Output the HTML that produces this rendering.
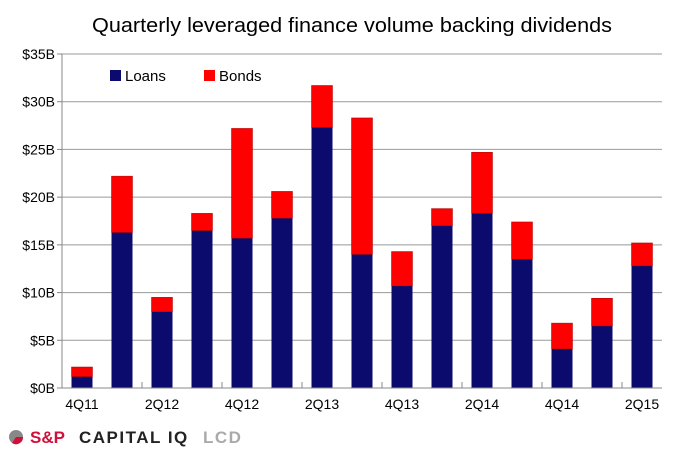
<!DOCTYPE html>
<html><head><meta charset="utf-8"><style>
body{margin:0;background:#fff;font-family:"Liberation Sans",Arial,sans-serif}
</style></head><body>
<svg width="675" height="460" xmlns="http://www.w3.org/2000/svg">
<text x="352" y="32" text-anchor="middle" font-size="20" fill="#000" textLength="520" lengthAdjust="spacingAndGlyphs">Quarterly leveraged finance volume backing dividends</text>
<g id="grid"></g><g id="bars"></g><g id="axes"></g>
<g>
<rect x="110" y="70" width="11" height="11" fill="#0b0b6e"/>
<text x="125" y="81" font-size="15">Loans</text>
<rect x="204" y="70" width="11" height="11" fill="#ff0000"/>
<text x="219" y="81" font-size="15">Bonds</text>
</g>
<g>
<circle cx="16" cy="437" r="7" fill="#888"/><path d="M16 437 L23 437 A7 7 0 0 1 12 443 Z" fill="#d0103a"/>
<text x="30" y="443" font-size="17" font-weight="bold" fill="#d0103a">S&amp;P</text>
<text x="79" y="443" font-size="17" font-weight="bold" fill="#222" letter-spacing="1.5">CAPITAL IQ</text>
<text x="203" y="443" font-size="17" font-weight="bold" fill="#aaa" letter-spacing="1.5">LCD</text>
</g>
</svg>
<script>
const categories=["4Q11","1Q12","2Q12","3Q12","4Q12","1Q13","2Q13","3Q13","4Q13","1Q14","2Q14","3Q14","4Q14","1Q15","2Q15"];
const loans=[1.2,16.3,8.0,16.5,15.7,17.8,27.3,14.0,10.7,17.0,18.3,13.5,4.1,6.5,12.8];
const bonds=[1.0,5.9,1.5,1.8,11.5,2.8,4.4,14.3,3.6,1.8,6.4,3.9,2.7,2.9,2.4];
const yTicks=[0,5,10,15,20,25,30,35];
const yTickLabels=["$0B","$5B","$10B","$15B","$20B","$25B","$30B","$35B"];
const xLabelIdx=[0,2,4,6,8,10,12,14];
const NS="http://www.w3.org/2000/svg";
const X0=62,X1=662,Y0=388,Y1=54,YMAX=35;
const band=(X1-X0)/categories.length, bw=21;
const y=v=>Y0-(v/YMAX)*(Y0-Y1);
const xc=i=>X0+band*(i+0.5);
function mk(t,a,p){const e=document.createElementNS(NS,t);for(const k in a)e.setAttribute(k,a[k]);p.appendChild(e);return e;}
const g=document.getElementById('grid'),b=document.getElementById('bars'),ax=document.getElementById('axes');
yTicks.forEach((v,i)=>{
 if(v>0){const l=mk('line',{x1:X0,x2:X1,y1:y(v),y2:y(v),stroke:'#999','stroke-width':1},g);
 
 }
 const tk=mk('line',{x1:X0-5,x2:X0,y1:y(v),y2:y(v),stroke:'#888'},ax);
 
 
 const t=mk('text',{x:X0-7,y:y(v)+5,'text-anchor':'end','font-size':14},ax);t.textContent=yTickLabels[i];
 
 
});
categories.forEach((c,i)=>{
 const r1=mk('rect',{x:xc(i)-bw/2,y:y(loans[i]),width:bw,height:Y0-y(loans[i]),fill:'#0b0b6e'},b);
 
 
 const r2=mk('rect',{x:xc(i)-bw/2,y:y(loans[i]+bonds[i]),width:bw,height:y(loans[i])-y(loans[i]+bonds[i]),fill:'#ff0000',stroke:'#a00','stroke-width':0.5},b);
 
 
 if(i%2==1){const tk=mk('line',{x1:X0+band*(i+1),x2:X0+band*(i+1),y1:Y0,y2:Y0-6,stroke:'#888'},ax);
 
 }
});
xLabelIdx.forEach(i=>{
 const t=mk('text',{x:xc(i),y:Y0+21,'text-anchor':'middle','font-size':14},ax);t.textContent=categories[i];
 
 
});
const yl=mk('line',{x1:X0,x2:X0,y1:Y1,y2:Y0,stroke:'#888'},ax);


const xl=mk('line',{x1:X0,x2:X1,y1:Y0,y2:Y0,stroke:'#888'},ax);


</script>
</body></html>
